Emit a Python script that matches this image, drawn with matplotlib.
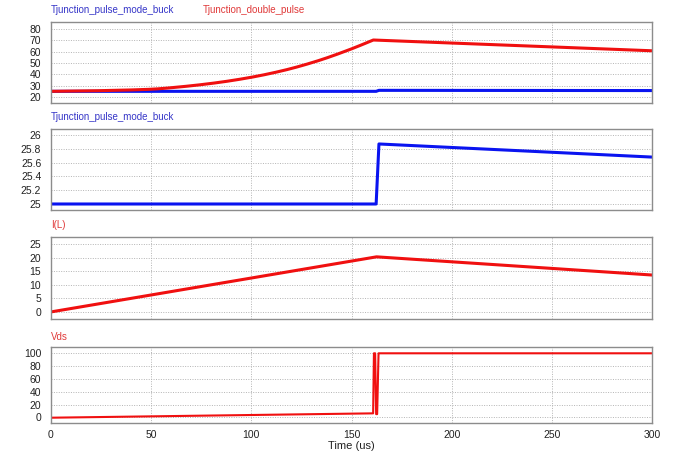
import matplotlib
matplotlib.use("Agg")
import matplotlib.pyplot as plt
import numpy as np

plt.rcParams['font.family'] = ['Liberation Sans', 'DejaVu Sans']

# ---- data ----
t_dp = [0, 15, 30, 49.4, 66, 82.7, 99.3, 116, 132.6, 149.3, 160.9, 300]
tj_double = [25, 25.3, 25.8, 26.8, 29.2, 32.6, 37.2, 43.4, 51.6, 62.0, 70.3, 60.8]

t_buck = [0, 162.3, 163.7, 300]
tj_buck = [25.0, 25.0, 25.87, 25.68]

t_il = [0, 162.5, 300]
i_l = [0, 20.3, 13.6]

t_vds = [0, 160.8, 161.2, 161.8, 162.3, 162.8, 163.5, 300]
vds = [-0.6, 6.2, 100, 100, 5, 5, 100, 100]

xticks = [0, 50, 100, 150, 200, 250, 300]
yt1 = [20, 30, 40, 50, 60, 70, 80]
yt2 = [25, 25.2, 25.4, 25.6, 25.8, 26]
yt3 = [0, 5, 10, 15, 20, 25]
yt4 = [0, 20, 40, 60, 80, 100]

BLUE = '#0a14f0'
RED = '#f01010'
BLUE_T = '#3636c8'
RED_T = '#e03a3a'

W, H = 675, 453
fig = plt.figure(figsize=(W / 100, H / 100), dpi=100)

def px_axes(top, bottom, left=51, right=652):
    return fig.add_axes([left / W, 1 - bottom / H, (right - left) / W, (bottom - top) / H])

def style(ax, yticks, ylim, ylabels=None, show_x=False):
    ax.set_xlim(0, 300)
    ax.set_ylim(*ylim)
    ax.set_xticks(xticks)
    ax.set_yticks(yticks)
    if ylabels is not None:
        ax.set_yticklabels(ylabels)
    ax.grid(True, color='#b4b4b4', linestyle=(0, (1, 1.5)), linewidth=0.7)
    for s in ax.spines.values():
        s.set_color('#8c8c8c')
        s.set_linewidth(1.0)
    ax.tick_params(axis='both', length=0, labelsize=7.5, colors='#222222')
    ax.tick_params(axis='y', pad=7)
    ax.tick_params(axis='x', pad=5)
    if not show_x:
        ax.set_xticklabels([])

# monotone cubic (Fritsch-Carlson) through the read points, for a smooth trace
def smooth(tx, ty, n=400):
    tx = np.asarray(tx, float)
    ty = np.asarray(ty, float)
    xs = np.linspace(tx[0], tx[-1], n)
    h = np.diff(tx)
    d = np.diff(ty) / h
    m = np.zeros_like(ty)
    m[0], m[-1] = d[0], d[-1]
    for i in range(1, len(ty) - 1):
        if d[i - 1] * d[i] > 0:
            w1 = 2 * h[i] + h[i - 1]
            w2 = h[i] + 2 * h[i - 1]
            m[i] = (w1 + w2) / (w1 / d[i - 1] + w2 / d[i])
    idx = np.clip(np.searchsorted(tx, xs) - 1, 0, len(h) - 1)
    s = (xs - tx[idx]) / h[idx]
    h00 = 2 * s**3 - 3 * s**2 + 1
    h10 = s**3 - 2 * s**2 + s
    h01 = -2 * s**3 + 3 * s**2
    h11 = s**3 - s**2
    ys = h00 * ty[idx] + h10 * h[idx] * m[idx] + h01 * ty[idx + 1] + h11 * h[idx] * m[idx + 1]
    return xs, ys

ax1 = px_axes(22, 103)
ax1.plot(t_buck, tj_buck, color=BLUE, lw=2.2)
n_rise = 11
xr, yr = smooth(t_dp[:n_rise], tj_double[:n_rise])
ax1.plot(np.r_[xr, t_dp[n_rise:]], np.r_[yr, tj_double[n_rise:]], color=RED, lw=2.2)
style(ax1, yt1, (14.7, 86.2))

ax2 = px_axes(129, 210)
ax2.plot(t_buck, tj_buck, color=BLUE, lw=2.2)
style(ax2, yt2, (24.913, 26.087), ['25', '25.2', '25.4', '25.6', '25.8', '26'])

ax3 = px_axes(237.3, 318.7)
ax3.plot(t_il, i_l, color=RED, lw=2.2)
style(ax3, yt3, (-2.5, 27.5))

ax4 = px_axes(346.7, 422.7)
ax4.plot(t_vds, vds, color=RED, lw=1.5)
style(ax4, yt4, (-8.4, 110.3), show_x=True)
ax4.set_xlabel('Time (us)', fontsize=8, color='#222222', labelpad=1)

def label(x, y, s, c):
    fig.text(x / W, 1 - y / H, s, color=c, fontsize=7, ha='left', va='center')

label(51, 10, 'Tjunction_pulse_mode_buck', BLUE_T)
label(203, 10, 'Tjunction_double_pulse', RED_T)
label(51, 117, 'Tjunction_pulse_mode_buck', BLUE_T)
label(51, 225, 'I(L)', RED_T)
label(51, 337, 'Vds', RED_T)

fig.savefig('out.png', dpi=100)
